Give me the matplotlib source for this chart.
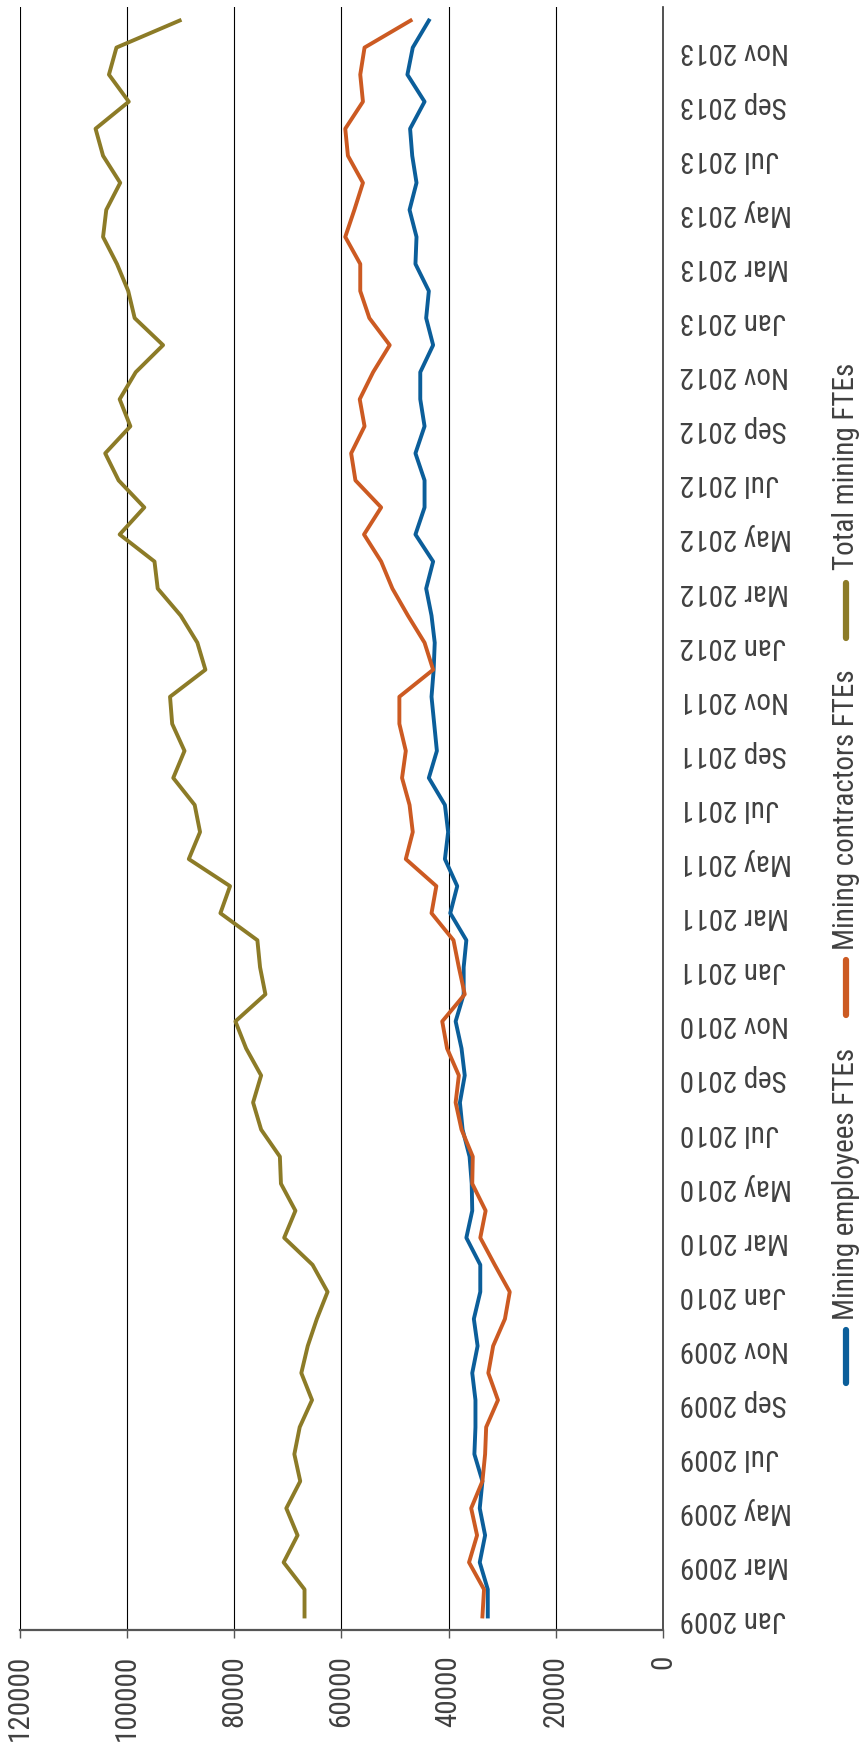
import matplotlib
matplotlib.use("Agg")
import matplotlib.pyplot as plt
from matplotlib import font_manager as fm
from matplotlib.lines import Line2D
from matplotlib.textpath import TextPath

# months Jan 2009 .. Dec 2013
months = ["Jan", "Feb", "Mar", "Apr", "May", "Jun", "Jul", "Aug", "Sep", "Oct", "Nov", "Dec"]
years = [2009, 2010, 2011, 2012, 2013]
dates = [m + " " + str(y) for y in years for m in months]

employees = [32700, 32700, 34200, 33200, 34200, 33700, 35200, 35000, 35000, 35600,
             34600, 35300, 34100, 34100, 36700, 35600, 35700, 36100, 37400, 37900,
             37000, 37600, 38700, 37200, 37200, 36700, 39700, 38400, 40700, 40100,
             40700, 43700, 42200, 42700, 43200, 42800, 42600, 43200, 44200, 42900,
             46200, 44500, 44500, 46200, 44500, 45300, 45300, 42900, 44200, 43700,
             46200, 46000, 47300, 46000, 46800, 47200, 44500, 47700, 46700, 43700]

contractors = [33700, 33400, 36200, 34700, 35800, 33700, 33200, 33000, 30800, 32600,
               31700, 29500, 28600, 31400, 34100, 33100, 35600, 35500, 37600, 38700,
               38100, 40300, 41200, 37000, 38100, 39100, 43200, 42300, 48000, 46700,
               47300, 48700, 48000, 49200, 49200, 42900, 44500, 47600, 50500, 52600,
               55800, 52600, 57400, 58200, 55700, 56600, 54100, 51000, 54800, 56500,
               56500, 59300, 57600, 56000, 58800, 59300, 56000, 56500, 55700, 47100]

total = [66900, 66900, 70800, 68200, 70300, 67700, 68800, 67800, 65500, 67500,
         66300, 64600, 62600, 65400, 70700, 68600, 71300, 71500, 75000, 76500,
         75000, 77800, 79800, 74200, 75200, 75700, 82600, 80800, 88500, 86400,
         87400, 91400, 89300, 91600, 92000, 85400, 86900, 90000, 94300, 94900,
         101400, 96800, 101600, 104100, 99400, 101400, 98400, 93300, 98600, 99800,
         101900, 104500, 103900, 101300, 104500, 105900, 99700, 103400, 102000, 90200]

series = [("Mining employees FTEs", employees, "#0b5e9a"),
          ("Mining contractors FTEs", contractors, "#cc5a22"),
          ("Total mining FTEs", total, "#8c7b27")]

value_ticks = [0, 20000, 40000, 60000, 80000, 100000, 120000]


# look for a narrow sans face, the original uses a condensed font
def find_narrow():
    fonts = [f for f in fm.fontManager.ttflist
             if f.style == "normal" and f.weight in (400, "normal", "regular")]
    for name in ["Liberation Sans Narrow", "Roboto Condensed", "Noto Sans Condensed",
                 "DejaVu Sans Condensed", "Open Sans Condensed"]:
        for f in fonts:
            if f.name == name:
                return f.fname
    for name in ["Roboto", "Noto Sans", "DejaVu Sans", "Open Sans"]:
        for f in fonts:
            if f.name == name and f.stretch in ("condensed", "semi-condensed", 87.5, 75):
                return f.fname
    for f in fonts:
        if f.name == "Liberation Sans":
            return f.fname
    return None


fname = find_narrow()
fp = fm.FontProperties(fname=fname) if fname else fm.FontProperties(family="DejaVu Sans")
# size chosen so the legend text is as long as in the original (about 277 px)
w = TextPath((0, 0), "Mining contractors FTEs", size=100, prop=fp).get_extents().width
fs = min(23, 100 * 277 * 0.72 / w)
fp.set_size(fs)

W, H = 864, 1748
fig = plt.figure(figsize=(W / 100, H / 100), dpi=100)
ax = fig.add_axes([20 / W, 118 / H, (663 - 20) / W, (1741 - 118) / H])

# chart is drawn turned on its side: values run across, months run up
idx = list(range(len(dates)))
for name, vals, col in series:
    ax.plot(vals, idx, color=col, lw=2.8, zorder=3)

ax.set_xlim(120000, 0)
ax.set_ylim(-0.5, len(dates) - 0.5)

ax.set_xticks(value_ticks)
ax.set_xticklabels([str(v) for v in value_ticks], rotation=90, color="#404040",
                   fontproperties=fp)
ax.tick_params(axis="x", direction="out", length=6, width=1, color="#555555", pad=12)
for v in value_ticks[1:]:
    ax.axvline(v, color="black", lw=0.8, zorder=1)

ax.set_yticks(idx[::2])
ax.set_yticklabels(dates[::2], rotation=180, color="#404040", fontproperties=fp)
ax.yaxis.tick_right()
ax.tick_params(axis="y", length=0, pad=12)

for s in ["top", "left"]:
    ax.spines[s].set_visible(False)
ax.spines["bottom"].set_color("#555555")
ax.spines["bottom"].set_linewidth(1.6)
ax.spines["right"].set_color("#333333")
ax.spines["right"].set_linewidth(1.2)

# legend by hand, turned the same way as the chart
leg_x = 846 / W
leg = [(1383, 1330, 1320), (1015, 960, 950), (638, 583, 570)]
for (name, vals, col), (m0, m1, t0) in zip(series, leg):
    fig.add_artist(Line2D([leg_x, leg_x], [1 - m0 / H, 1 - m1 / H], color=col, lw=4.5,
                          solid_capstyle="round", transform=fig.transFigure))
    fig.text(leg_x, 1 - t0 / H, name, rotation=90, ha="center", va="bottom",
             color="#404040", fontproperties=fp)

plt.savefig("out.png", dpi=100)
